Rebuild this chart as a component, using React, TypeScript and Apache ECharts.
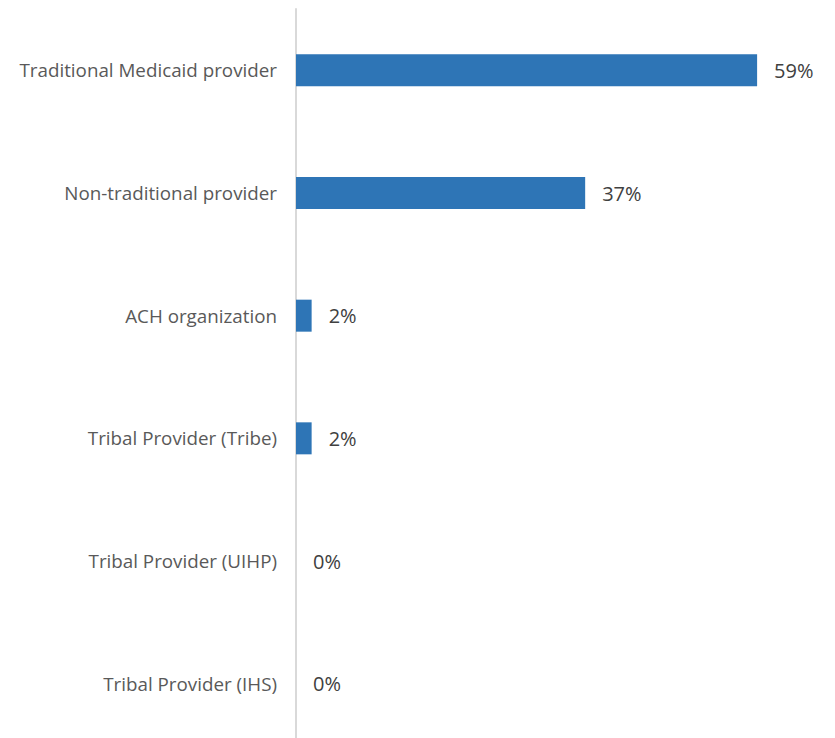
import React, { useEffect, useRef } from "react";
import * as echarts from "echarts";

const categories = [
  "Traditional Medicaid provider",
  "Non-traditional provider",
  "ACH organization",
  "Tribal Provider (Tribe)",
  "Tribal Provider (UIHP)",
  "Tribal Provider (IHS)",
];
const values = [59, 37, 2, 2, 0, 0];

export default function App() {
  const ref = useRef<HTMLDivElement>(null);
  useEffect(() => {
    document.body.style.margin = "0";
    document.body.style.overflow = "hidden";
    const chart = echarts.init(ref.current!, null, { renderer: "svg" });
    chart.setOption({
      animation: false,
      grid: { left: 296, right: 31, top: 9, bottom: 1, containLabel: false },
      xAxis: { type: "value", min: 0, max: 65, show: false },
      yAxis: {
        type: "category",
        inverse: true,
        data: categories,
        axisLine: { show: true, lineStyle: { color: "#d9d9d9", width: 2 } },
        axisTick: { show: false },
        axisLabel: {
          margin: 19,
          fontSize: 18.8,
          color: "#595959",
          fontFamily: "Open Sans",
        },
      },
      series: [
        {
          type: "bar",
          data: values,
          barWidth: 32,
          itemStyle: { color: "#2e75b6" },
          label: {
            show: true,
            position: "right",
            distance: 17,
            formatter: "{c}%",
            fontSize: 20,
            color: "#404040",
            fontFamily: "Open Sans",
          },
        },
      ],
    });
    return () => chart.dispose();
  }, []);
  return <div ref={ref} style={{ width: 835, height: 746 }} />;
}
